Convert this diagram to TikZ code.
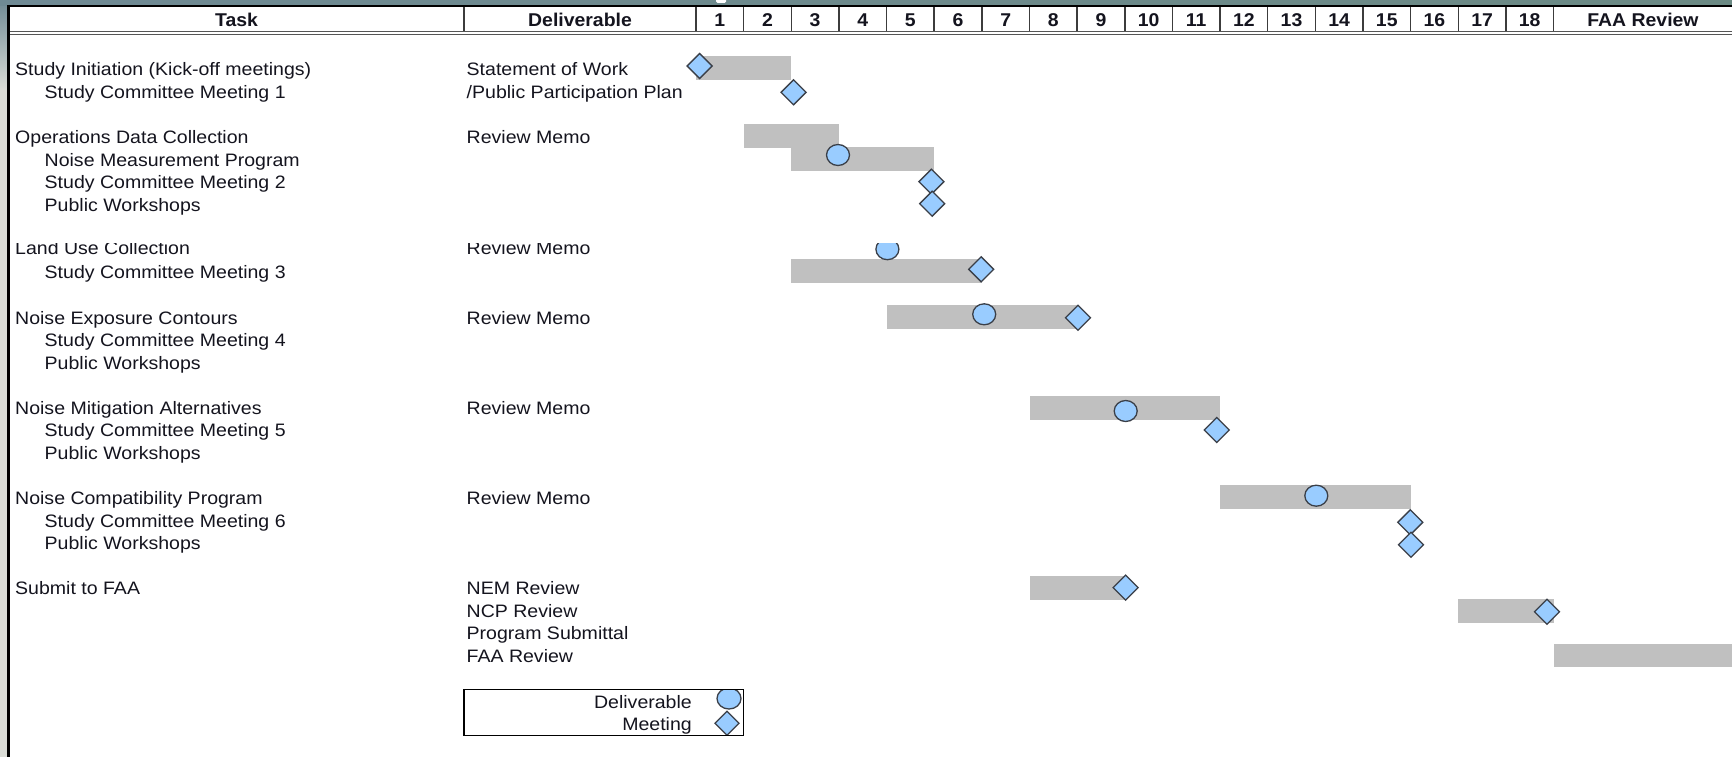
\documentclass[tikz,border=0pt]{standalone}
\usepackage{fontspec}
\setmainfont{Liberation Sans}[FakeStretch=1.085]
\newfontfamily\hdrfont{Liberation Sans}[FakeStretch=1.05]
\usetikzlibrary{shapes.geometric}
\definecolor{barc}{HTML}{C0C0C0}
\definecolor{mfill}{HTML}{99CCFF}
\definecolor{mline}{HTML}{3A3F48}
\definecolor{bandL}{HTML}{6F8A94}
\definecolor{bandR}{HTML}{6B8A84}
\definecolor{stripe}{HTML}{DADCD6}
\definecolor{sepc}{HTML}{3C3C3C}
\definecolor{dblc}{HTML}{555555}
\definecolor{txc}{HTML}{14141E}
\begin{document}
\begin{tikzpicture}[x=1pt,y=-1pt,
  bar/.style={fill=barc},
  meet/.style={draw=mline, line width=1.3pt, fill=mfill, diamond, inner sep=0pt, outer sep=0pt, minimum width=25pt, minimum height=25pt},
  deliv/.style={draw=mline, line width=1.3pt, fill=mfill, ellipse, inner sep=0pt, outer sep=0pt, minimum width=23pt, minimum height=21pt},
  tx/.style={inner sep=0pt, anchor=base west, font=\fontsize{18}{20}\selectfont, text=txc},
  hd/.style={inner sep=0pt, anchor=base, font=\hdrfont\bfseries\fontsize{18.5}{20}\selectfont, text=txc},
  lg/.style={tx, anchor=base east},
  sep/.style={draw=sepc, line width=1.5pt},
  dbl/.style={draw=dblc, line width=1.4pt}]
\useasboundingbox (0,0) rectangle (1732,757);
% background
\fill[white] (0,0) rectangle (1732,757);
\fill[stripe] (0,0) rectangle (7.5,757);
\shade[top color=bandL, bottom color=stripe] (0,0) rectangle (7.5,90);
\shade[left color=bandL, right color=bandR] (0,0) rectangle (1732,5.2);
\fill[white, rounded corners=1.5pt] (716,-2) rectangle (726,3);
% frame
\draw[black, line width=2.3pt] (7.3,6.2) -- (1732,6.2);
\draw[black, line width=2.7pt] (8.7,5) -- (8.7,757);
% header separators
\draw[sep] (464,7.3) -- (464,31);
\draw[sep] (696,7.3) -- (696,31);
\foreach \k in {1,...,18} \draw[sep] ({696+47.64*\k},7.3) -- ({696+47.64*\k},31);
\draw[dbl] (10,31.7) -- (1732,31.7);
\draw[dbl] (10,34.5) -- (1732,34.5);
% header text
\node[hd] (hTask) at (236.5,27) {Task};
\node[hd] (hDel) at (580,27) {Deliverable};
\foreach \k in {1,...,18} \node[hd] (h\k) at ({696+47.64*(\k-0.5)},27) {\k};
\node[hd] (hFAA) at (1643,27) {FAA Review};
% bars
\fill[bar] (696,56.5) rectangle (791.3,80.5);
\fill[bar] (743.6,124.15) rectangle (838.9,148.15);
\fill[bar] (791.3,146.7) rectangle (934.2,170.7);
\fill[bar] (791.3,259.45) rectangle (981.8,283.45);
\fill[bar] (886.6,304.55) rectangle (1077.1,328.55);
\fill[bar] (1029.5,395.5) rectangle (1220.0,419.5);
\fill[bar] (1220.0,485.2) rectangle (1410.6,509.2);
\fill[bar] (1029.5,575.6) rectangle (1124.8,599.6);
\fill[bar] (1458.2,599.3) rectangle (1553.5,623.3);
\fill[bar] (1553.5,644) rectangle (1732,667);
% markers
\node[meet] (m1) at (699.6,66) {};
\node[meet] (m2) at (793.6,92.3) {};
\node[deliv] (c4) at (838,155) {};
\node[meet] (m5) at (931.4,181.7) {};
\node[meet] (m6) at (932.2,203.7) {};
\begin{scope}
  \clip (0,243.6) rectangle (1732,300);
  \node[deliv] (c8) at (887.4,249.2) {};
  \node[tx] (t8) at (15,254.5) {Land Use Collection};
  \node[tx] (d8) at (466.5,254.5) {Review Memo};
\end{scope}
\node[meet] (m9) at (981.2,269.3) {};
\node[deliv] (c11) at (984.2,314.3) {};
\node[meet] (m11) at (1078,317.7) {};
\node[deliv] (c15) at (1125.7,411) {};
\node[meet] (m16) at (1216.7,430) {};
\node[deliv] (c19) at (1316.3,495.7) {};
\node[meet] (m20) at (1410.3,522.3) {};
\node[meet] (m21) at (1411,544.7) {};
\node[meet] (m23) at (1125.6,587.6) {};
\node[meet] (m24) at (1547,611.7) {};
% task column
\node[tx] (t0) at (15,76) {Study Initiation (Kick-off meetings)};
\node[tx] (t1) at (44.5,98.55) {Study Committee Meeting 1};
\node[tx] (t3) at (15,143.65) {Operations Data Collection};
\node[tx] (t4) at (44.5,166.2) {Noise Measurement Program};
\node[tx] (t5) at (44.5,188.75) {Study Committee Meeting 2};
\node[tx] (t6) at (44.5,211.3) {Public Workshops};
\node[tx] (t9) at (44.5,278.95) {Study Committee Meeting 3};
\node[tx] (t11) at (15,324.05) {Noise Exposure Contours};
\node[tx] (t12) at (44.5,346.6) {Study Committee Meeting 4};
\node[tx] (t13) at (44.5,369.15) {Public Workshops};
\node[tx] (t15) at (15,414.25) {Noise Mitigation Alternatives};
\node[tx] (t16) at (44.5,436.8) {Study Committee Meeting 5};
\node[tx] (t17) at (44.5,459.35) {Public Workshops};
\node[tx] (t19) at (15,504.45) {Noise Compatibility Program};
\node[tx] (t20) at (44.5,527) {Study Committee Meeting 6};
\node[tx] (t21) at (44.5,549.55) {Public Workshops};
\node[tx] (t23) at (15,594.65) {Submit to FAA};
% deliverable column
\node[tx] (d0) at (466.5,76) {Statement of Work};
\node[tx] (d1) at (466.5,98.55) {/Public Participation Plan};
\node[tx] (d3) at (466.5,143.65) {Review Memo};
\node[tx] (d11) at (466.5,324.05) {Review Memo};
\node[tx] (d15) at (466.5,414.25) {Review Memo};
\node[tx] (d19) at (466.5,504.45) {Review Memo};
\node[tx] (d23) at (466.5,594.65) {NEM Review};
\node[tx] (d24) at (466.5,617.2) {NCP Review};
\node[tx] (d25) at (466.5,639.75) {Program Submittal};
\node[tx] (d26) at (466.5,662.3) {FAA Review};
% legend
\begin{scope}
  \clip (464,689.3) rectangle (743.4,735.7);
  \node[deliv, minimum width=24pt, minimum height=21pt] (lc) at (729,698.5) {};
  \node[meet, minimum width=24pt, minimum height=24pt] (lm) at (727,723.3) {};
\end{scope}
\draw[black, line width=1.3pt] (464,689.3) rectangle (743.4,735.7);
\node[lg] (lt1) at (692,708.5) {Deliverable};
\node[lg] (lt2) at (692,730.5) {Meeting};
\end{tikzpicture}
\end{document}
